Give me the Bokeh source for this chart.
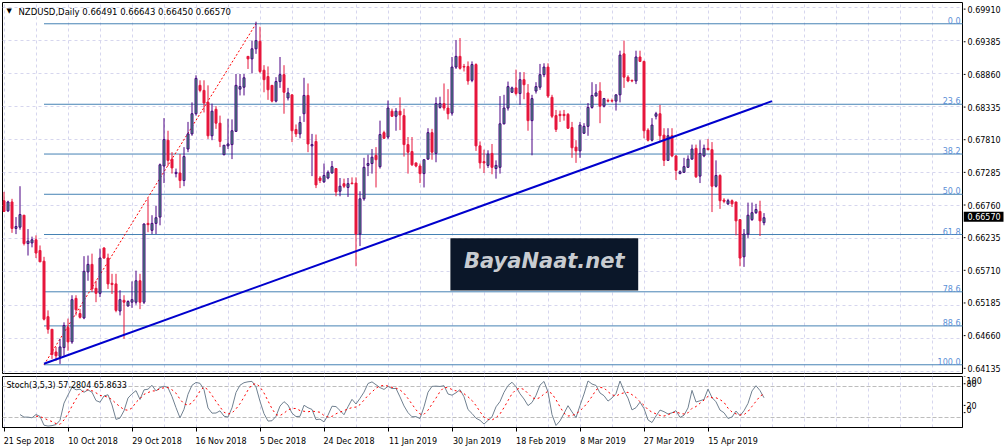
import math
from bokeh.plotting import figure
from bokeh.models import (Range1d, FixedTicker, ColumnDataSource, Label, BoxAnnotation, Grid)
from bokeh.layouts import column, row
from bokeh.embed import file_html
from bokeh.resources import INLINE
from bokeh.core.properties import value

# ---------------- data ----------------
symbol = "NZDUSD"
timeframe = "Daily"

open_ = [
    0.6684, 0.6668, 0.6682, 0.6640, 0.6642, 0.6661, 0.6616, 0.6617, 0.6622, 0.6605,
    0.6588, 0.6500, 0.6480, 0.6444, 0.6437, 0.6451, 0.6483, 0.6460, 0.6529, 0.6505,
    0.6498, 0.6571, 0.6583, 0.6545, 0.6537, 0.6609, 0.6593, 0.6553, 0.6552, 0.6509,
    0.6526, 0.6517, 0.6523, 0.6523, 0.6557, 0.6523, 0.6648, 0.6637, 0.6648, 0.6658,
    0.6739, 0.6780, 0.6750, 0.6727, 0.6728, 0.6716, 0.6766, 0.6790, 0.6822, 0.6867,
    0.6859, 0.6840, 0.6787, 0.6829, 0.6807, 0.6757, 0.6771, 0.6773, 0.6794, 0.6861,
    0.6864, 0.6913, 0.6909, 0.6925, 0.6937, 0.6891, 0.6881, 0.6867, 0.6842, 0.6873,
    0.6884, 0.6847, 0.6852, 0.6797, 0.6790, 0.6822, 0.6851, 0.6771, 0.6778, 0.6720,
    0.6714, 0.6720, 0.6728, 0.6735, 0.6699, 0.6711, 0.6705, 0.6712, 0.6712, 0.6631,
    0.6687, 0.6740, 0.6743, 0.6756, 0.6738, 0.6792, 0.6785, 0.6826, 0.6818, 0.6826,
    0.6819, 0.6773, 0.6762, 0.6744, 0.6739, 0.6727, 0.6750, 0.6792, 0.6759, 0.6832,
    0.6838, 0.6831, 0.6823, 0.6896, 0.6913, 0.6897, 0.6897, 0.6875, 0.6900, 0.6771,
    0.6746, 0.6740, 0.6759, 0.6735, 0.6737, 0.6806, 0.6831, 0.6856, 0.6863, 0.6854,
    0.6876, 0.6855, 0.6811, 0.6858, 0.6864, 0.6884, 0.6896, 0.6848, 0.6819, 0.6821,
    0.6821, 0.6821, 0.6800, 0.6769, 0.6763, 0.6791, 0.6802, 0.6832, 0.6850, 0.6858,
    0.6834, 0.6843, 0.6843, 0.6842, 0.6852, 0.6917, 0.6880, 0.6875, 0.6874, 0.6912,
    0.6905, 0.6796, 0.6780, 0.6818, 0.6822, 0.6788, 0.6748, 0.6787, 0.6755, 0.6727,
    0.6729, 0.6737, 0.6750, 0.6767, 0.6723, 0.6755, 0.6767, 0.6765, 0.6707, 0.6724,
    0.6685, 0.6679, 0.6684, 0.6682, 0.6654, 0.6595, 0.6631, 0.6654, 0.6665, 0.6667,
    0.66491,
]
high = [
    0.6698, 0.6684, 0.6687, 0.6658, 0.6707, 0.6661, 0.6639, 0.6627, 0.6629, 0.6613,
    0.6595, 0.6510, 0.6480, 0.6452, 0.6465, 0.6491, 0.6497, 0.6534, 0.6534, 0.6512,
    0.6596, 0.6597, 0.6600, 0.6557, 0.6608, 0.6610, 0.6600, 0.6568, 0.6568, 0.6542,
    0.6534, 0.6526, 0.6556, 0.6573, 0.6568, 0.6648, 0.6688, 0.6661, 0.6676, 0.6743,
    0.6815, 0.6795, 0.6761, 0.6735, 0.6758, 0.6769, 0.6809, 0.6840, 0.6883, 0.6875,
    0.6875, 0.6867, 0.6838, 0.6834, 0.6819, 0.6772, 0.6814, 0.6813, 0.6885, 0.6885,
    0.6885, 0.6913, 0.6938, 0.6968, 0.6960, 0.6899, 0.6897, 0.6867, 0.6880, 0.6912,
    0.6899, 0.6863, 0.6852, 0.6805, 0.6818, 0.6879, 0.6870, 0.6790, 0.6789, 0.6723,
    0.6743, 0.6732, 0.6747, 0.6735, 0.6720, 0.6719, 0.6720, 0.6721, 0.6721, 0.6699,
    0.6752, 0.6757, 0.6766, 0.6769, 0.6811, 0.6795, 0.6843, 0.6830, 0.6831, 0.6848,
    0.6830, 0.6785, 0.6785, 0.6744, 0.6743, 0.6749, 0.6799, 0.6798, 0.6848, 0.6849,
    0.6870, 0.6861, 0.6912, 0.6939, 0.6942, 0.6901, 0.6905, 0.6905, 0.6902, 0.6778,
    0.6765, 0.6764, 0.6774, 0.6748, 0.6850, 0.6852, 0.6873, 0.6865, 0.6892, 0.6888,
    0.6888, 0.6869, 0.6852, 0.6872, 0.6901, 0.6902, 0.6902, 0.6852, 0.6828, 0.6827,
    0.6828, 0.6823, 0.6809, 0.6780, 0.6809, 0.6807, 0.6839, 0.6872, 0.6869, 0.6872,
    0.6847, 0.6846, 0.6846, 0.6852, 0.6922, 0.6938, 0.6883, 0.6876, 0.6922, 0.6922,
    0.6906, 0.6799, 0.6815, 0.6825, 0.6836, 0.6799, 0.6799, 0.6799, 0.6756, 0.6732,
    0.6752, 0.6756, 0.6773, 0.6773, 0.6780, 0.6773, 0.6782, 0.6777, 0.6748, 0.6726,
    0.6688, 0.6687, 0.6686, 0.6682, 0.6654, 0.6639, 0.6681, 0.6681, 0.6679, 0.6684,
    0.66643,
]
low = [
    0.6666, 0.6666, 0.6633, 0.6631, 0.6638, 0.6613, 0.6597, 0.6610, 0.6593, 0.6587,
    0.6494, 0.6473, 0.6433, 0.6430, 0.6425, 0.6438, 0.6446, 0.6457, 0.6502, 0.6497,
    0.6496, 0.6557, 0.6539, 0.6523, 0.6531, 0.6592, 0.6544, 0.6536, 0.6507, 0.6502,
    0.6465, 0.6516, 0.6514, 0.6519, 0.6512, 0.6520, 0.6634, 0.6631, 0.6631, 0.6645,
    0.6712, 0.6739, 0.6727, 0.6721, 0.6704, 0.6707, 0.6761, 0.6787, 0.6819, 0.6856,
    0.6824, 0.6782, 0.6780, 0.6798, 0.6769, 0.6756, 0.6766, 0.6750, 0.6793, 0.6851,
    0.6851, 0.6893, 0.6886, 0.6917, 0.6886, 0.6856, 0.6844, 0.6840, 0.6840, 0.6863,
    0.6822, 0.6843, 0.6777, 0.6785, 0.6783, 0.6809, 0.6761, 0.6723, 0.6704, 0.6712,
    0.6712, 0.6718, 0.6727, 0.6691, 0.6691, 0.6704, 0.6690, 0.6710, 0.6580, 0.6612,
    0.6684, 0.6723, 0.6727, 0.6705, 0.6735, 0.6782, 0.6782, 0.6817, 0.6795, 0.6796,
    0.6754, 0.6727, 0.6739, 0.6737, 0.6712, 0.6705, 0.6749, 0.6749, 0.6745, 0.6830,
    0.6827, 0.6813, 0.6819, 0.6893, 0.6892, 0.6889, 0.6868, 0.6872, 0.6763, 0.6735,
    0.6728, 0.6736, 0.6726, 0.6719, 0.6727, 0.6805, 0.6827, 0.6855, 0.6851, 0.6836,
    0.6845, 0.6795, 0.6756, 0.6854, 0.6860, 0.6880, 0.6847, 0.6815, 0.6793, 0.6809,
    0.6811, 0.6798, 0.6752, 0.6744, 0.6752, 0.6790, 0.6787, 0.6830, 0.6850, 0.6807,
    0.6832, 0.6840, 0.6840, 0.6827, 0.6840, 0.6863, 0.6872, 0.6872, 0.6869, 0.6904,
    0.6783, 0.6778, 0.6778, 0.6813, 0.6777, 0.6739, 0.6748, 0.6753, 0.6717, 0.6726,
    0.6728, 0.6736, 0.6749, 0.6720, 0.6712, 0.6753, 0.6764, 0.6666, 0.6705, 0.6671,
    0.6680, 0.6677, 0.6674, 0.6629, 0.6580, 0.6579, 0.6625, 0.6652, 0.6663, 0.6628,
    0.66450,
]
close = [
    0.6667, 0.6682, 0.6640, 0.6643, 0.6662, 0.6616, 0.6620, 0.6622, 0.6601, 0.6587,
    0.6496, 0.6480, 0.6440, 0.6438, 0.6452, 0.6486, 0.6460, 0.6527, 0.6511, 0.6499,
    0.6572, 0.6583, 0.6544, 0.6537, 0.6593, 0.6593, 0.6552, 0.6551, 0.6510, 0.6527,
    0.6523, 0.6524, 0.6527, 0.6557, 0.6523, 0.6647, 0.6646, 0.6648, 0.6657, 0.6741,
    0.6781, 0.6748, 0.6736, 0.6729, 0.6716, 0.6754, 0.6790, 0.6822, 0.6878, 0.6859,
    0.6839, 0.6787, 0.6826, 0.6807, 0.6778, 0.6772, 0.6774, 0.6795, 0.6867, 0.6865,
    0.6879, 0.6909, 0.6925, 0.6938, 0.6889, 0.6876, 0.6860, 0.6842, 0.6873, 0.6884,
    0.6856, 0.6855, 0.6795, 0.6790, 0.6808, 0.6851, 0.6774, 0.6773, 0.6709, 0.6716,
    0.6724, 0.6729, 0.6738, 0.6698, 0.6707, 0.6707, 0.6711, 0.6711, 0.6631, 0.6687,
    0.6737, 0.6743, 0.6753, 0.6749, 0.6789, 0.6783, 0.6831, 0.6818, 0.6826, 0.6820,
    0.6773, 0.6761, 0.6741, 0.6739, 0.6727, 0.6749, 0.6792, 0.6761, 0.6838, 0.6838,
    0.6831, 0.6822, 0.6896, 0.6913, 0.6894, 0.6896, 0.6874, 0.6900, 0.6771, 0.6744,
    0.6744, 0.6758, 0.6737, 0.6740, 0.6806, 0.6831, 0.6865, 0.6863, 0.6854, 0.6876,
    0.6868, 0.6811, 0.6846, 0.6865, 0.6884, 0.6896, 0.6850, 0.6818, 0.6797, 0.6819,
    0.6819, 0.6799, 0.6768, 0.6763, 0.6804, 0.6802, 0.6832, 0.6851, 0.6855, 0.6834,
    0.6846, 0.6842, 0.6842, 0.6852, 0.6915, 0.6880, 0.6874, 0.6874, 0.6912, 0.6905,
    0.6795, 0.6780, 0.6804, 0.6822, 0.6787, 0.6748, 0.6787, 0.6755, 0.6732, 0.6730,
    0.6738, 0.6750, 0.6766, 0.6722, 0.6759, 0.6767, 0.6765, 0.6707, 0.6724, 0.6684,
    0.6683, 0.6684, 0.6679, 0.6652, 0.6593, 0.6631, 0.6661, 0.6665, 0.6670, 0.6652,
    0.66570,
]

price_ticks = [0.69910, 0.69385, 0.68860, 0.68335, 0.67810, 0.67285,
               0.66760, 0.66235, 0.65710, 0.65185, 0.64660, 0.64135]
date_labels = ["21 Sep 2018", "10 Oct 2018", "29 Oct 2018", "16 Nov 2018",
               "5 Dec 2018", "24 Dec 2018", "11 Jan 2019", "30 Jan 2019",
               "18 Feb 2019", "8 Mar 2019", "27 Mar 2019", "15 Apr 2019"]
date_bars = [0, 16, 32, 48, 64, 80, 96, 112, 128, 144, 160, 176]

fib_levels = [0.0, 23.6, 38.2, 50.0, 61.8, 78.6, 88.6, 100.0]
fib_bars = [10, 63]                 # anchor bars: 100% point, 0% point
fib_prices = [0.64237, 0.69647]     # prices at those anchors
trend_bars = [10, 192]
trend_prices = [0.64253, 0.68419]

stoch_k, stoch_d, stoch_slowing = 3, 5, 3
stoch_main_shown, stoch_signal_shown = 57.2804, 65.8633
stoch_levels = [20, 80]
stoch_bounds = [0, 100]

# ---------------- style / layout ----------------
FONT = "DejaVu Sans"
FS = "8px"
W_TOTAL = 1007
AX_W = 44                      # width of the price-scale strip on the right
W = W_TOTAL - AX_W             # width of the chart panels
H_MAIN, H_STOCH = 376, 72
MT, MB = 2, 3                  # main panel top/bottom borders
SB = 21                        # room for the date axis under the stochastic panel
BULL_BODY = "#3CB371"
BULL_LINE = "#4B0082"
BEAR = "#E6173C"
GRID_C = "#D6D6EE"
FIB_C = "#4682B4"
FIB_TXT = "#5B8FD6"
TREND_C = "#0000CD"
TICK_LEN = 2
LBL_X = 4

n = len(close)
xs = list(range(n))
PX_PER_BAR = 4.0
ML, MR = 2, 1
FRAME_W = W - ML - MR
X_START = -0.375
X_END = X_START + FRAME_W / PX_PER_BAR
Y_START, Y_END = 0.640985, 0.699846
grid_bars = list(range(0, int(X_END) + 1, 8))


def clear_grids(fig):
    for r in fig.center:
        if isinstance(r, Grid):
            r.visible = False


def set_grid(fig, dim, ticks, color, dash):
    grids = [r for r in fig.center if isinstance(r, Grid) and r.dimension == dim]
    if not grids:
        g = Grid(dimension=dim)
        fig.add_layout(g, "center")
        grids = [g]
    for g in grids:
        g.ticker = FixedTicker(ticks=ticks)
        g.grid_line_color = color
        g.grid_line_dash = dash
        g.grid_line_width = 1


def strip(height, y_rng):
    f = figure(width=AX_W, height=height, x_range=Range1d(0, AX_W), y_range=y_rng,
               output_backend="svg", toolbar_location=None, x_axis_location=None,
               y_axis_location=None, min_border_left=0, min_border_right=0,
               min_border_top=0, min_border_bottom=0)
    f.outline_line_color = None
    f.background_fill_color = "white"
    f.border_fill_color = "white"
    clear_grids(f)
    return f


# ---------------- main price panel ----------------
p = figure(width=W, height=H_MAIN, x_range=Range1d(X_START, X_END),
           y_range=Range1d(Y_START, Y_END), output_backend="svg",
           toolbar_location=None, x_axis_location=None, y_axis_location=None,
           min_border_left=ML, min_border_right=MR, min_border_top=MT, min_border_bottom=MB)
p.background_fill_color = "white"
p.border_fill_color = "white"
p.outline_line_color = "black"
p.outline_line_width = 1

set_grid(p, 0, grid_bars, GRID_C, "3 3")
set_grid(p, 1, price_ticks, GRID_C, "3 3")

# Fibonacci retracement
fib_lo, fib_hi = fib_prices
lvl_prices = [fib_hi - (fib_hi - fib_lo) * lv / 100.0 for lv in fib_levels]
p.ray(x=[fib_bars[0]] * len(lvl_prices), y=lvl_prices, length=0, angle=0,
      line_color=FIB_C, line_width=1)
p.text(x=[X_END] * len(lvl_prices), y=lvl_prices, text=[f"{lv:.1f}" for lv in fib_levels],
       text_align="right", text_baseline="bottom", x_offset=-2,
       text_font=value(FONT), text_font_size=value(FS), text_color=FIB_TXT)
p.line(x=fib_bars, y=fib_prices, line_color="red", line_dash="2 2", line_width=1)


# candles
def make_src(idx):
    return ColumnDataSource(dict(
        x=[xs[i] for i in idx],
        h=[high[i] for i in idx],
        l=[low[i] for i in idx],
        top=[max(open_[i], close[i]) for i in idx],
        bot=[min(open_[i], close[i]) for i in idx],
    ))


up_idx = [i for i in xs if close[i] >= open_[i]]
dn_idx = [i for i in xs if close[i] < open_[i]]
up_src, dn_src = make_src(up_idx), make_src(dn_idx)
p.segment(x0="x", y0="l", x1="x", y1="h", source=up_src, line_color=BULL_LINE, line_width=1)
p.segment(x0="x", y0="l", x1="x", y1="h", source=dn_src, line_color=BEAR, line_width=1)
p.vbar(x="x", width=0.5, top="top", bottom="bot", source=up_src,
       fill_color=BULL_BODY, line_color=BULL_LINE, line_width=1)
p.vbar(x="x", width=0.5, top="top", bottom="bot", source=dn_src,
       fill_color=BEAR, line_color=BEAR, line_width=1)

# trend line
p.line(x=trend_bars, y=trend_prices, line_color=TREND_C, line_width=2)

# watermark logo
WM_L, WM_R, WM_T, WM_B = 111.6, 158.55, 0.66245, 0.65415
p.add_layout(BoxAnnotation(left=WM_L, right=WM_R, top=WM_T, bottom=WM_B,
                           fill_color="#0B1729", fill_alpha=1.0, line_color=None))
p.add_layout(Label(x=(WM_L + WM_R) / 2, y=(WM_T + WM_B) / 2, y_offset=3,
                   text="BayaNaat.net", text_align="center", text_baseline="middle",
                   text_font=FONT, text_font_size="21px", text_font_style="bold italic",
                   text_color="#C8CCD1"))

# title
title_txt = f"{symbol},{timeframe}  " + " ".join(
    f"{v:.5f}" for v in (open_[-1], high[-1], low[-1], close[-1]))
p.add_layout(Label(x=X_START, y=Y_END, x_offset=4, y_offset=-8, text="\u25BC",
                   text_baseline="middle", text_font=FONT, text_font_size="7px",
                   text_color="black"))
p.add_layout(Label(x=X_START, y=Y_END, x_offset=16, y_offset=-4, text=title_txt,
                   text_baseline="top", text_font=FONT, text_font_size="8.5px",
                   text_color="black"))

# ---------------- price scale strip (right of the main panel) ----------------
ppu = (H_MAIN - MT - MB) / (Y_END - Y_START)
pa = strip(H_MAIN, Range1d(Y_START - MB / ppu, Y_END + MT / ppu))
pa.segment(x0=[0] * len(price_ticks), x1=[TICK_LEN] * len(price_ticks),
           y0=price_ticks, y1=price_ticks, line_color="black", line_width=1)
pa.text(x=[LBL_X] * len(price_ticks), y=price_ticks, text=[f"{t:.5f}" for t in price_ticks],
        text_baseline="middle", text_align="left", text_font=value(FONT),
        text_font_size=value(FS), text_color="black")
# current price marker
pa.rect(x=[(AX_W - 4) / 2], y=[close[-1]], width=AX_W - 4, height=10, height_units="screen",
        fill_color="black", line_color=None)
pa.text(x=[LBL_X], y=[close[-1]], text=[f"{close[-1]:.5f}"], text_baseline="middle",
        text_align="left", text_font=value(FONT), text_font_size=value(FS),
        text_color="white")

# ---------------- stochastic panel ----------------
ll = [min(low[max(0, i - stoch_k + 1):i + 1]) for i in xs]
hh = [max(high[max(0, i - stoch_k + 1):i + 1]) for i in xs]
st_main = [float("nan")] * n
for i in range(stoch_k - 1 + stoch_slowing - 1, n):
    num = sum(close[j] - ll[j] for j in range(i - stoch_slowing + 1, i + 1))
    den = sum(hh[j] - ll[j] for j in range(i - stoch_slowing + 1, i + 1))
    st_main[i] = 100.0 * num / den if den > 0 else 100.0
st_sig = [float("nan")] * n
first = stoch_k - 1 + stoch_slowing - 1 + stoch_d - 1
for i in range(first, n):
    st_sig[i] = sum(st_main[i - stoch_d + 1:i + 1]) / stoch_d

s = figure(width=W, height=H_STOCH, x_range=p.x_range, y_range=Range1d(*stoch_bounds),
           output_backend="svg", toolbar_location=None, x_axis_location="below",
           y_axis_location=None, min_border_left=ML, min_border_right=MR,
           min_border_top=0, min_border_bottom=SB)
s.background_fill_color = "white"
s.border_fill_color = "white"
s.outline_line_color = "black"
s.outline_line_width = 1
set_grid(s, 0, grid_bars, GRID_C, "3 3")
set_grid(s, 1, stoch_levels, "#BDBDBD", "4 2")

centers = [b + round(len(t) * 4.6 / 2 / PX_PER_BAR * 4) / 4 for b, t in zip(date_bars, date_labels)]
sx = s.xaxis[0]
sx.ticker = FixedTicker(ticks=centers, minor_ticks=date_bars)
sx.major_label_overrides = {c: t for c, t in zip(centers, date_labels)}
sx.major_tick_in = 0
sx.major_tick_out = 0
sx.minor_tick_in = 0
sx.minor_tick_out = 4
sx.minor_tick_line_color = "black"
sx.axis_line_color = "black"
sx.major_label_text_font = FONT
sx.major_label_text_font_size = FS
sx.major_label_text_color = "black"
sx.major_label_standoff = 5

s.line(x=xs, y=st_main, line_color="#708090", line_width=1)
s.line(x=xs, y=st_sig, line_color="red", line_dash="2 3", line_width=1)

s.add_layout(Label(x=X_START, y=stoch_bounds[1], x_offset=4, y_offset=-9,
                   text=f"Stoch({stoch_k},{stoch_d},{stoch_slowing}) {stoch_main_shown:.4f} {stoch_signal_shown:.4f}",
                   text_baseline="middle", text_font=FONT, text_font_size=FS,
                   text_color="black"))

# ---------------- stochastic scale strip ----------------
spu = (H_STOCH - SB) / (stoch_bounds[1] - stoch_bounds[0])
sa = strip(H_STOCH, Range1d(stoch_bounds[0] - SB / spu, stoch_bounds[1]))
s_ticks = stoch_bounds + stoch_levels
sa.segment(x0=[0] * len(s_ticks), x1=[TICK_LEN] * len(s_ticks), y0=s_ticks, y1=s_ticks,
           line_color="black", line_width=1)
sa.text(x=[LBL_X - 1] * len(stoch_levels), y=stoch_levels, text=[str(v) for v in stoch_levels],
        text_baseline="middle", text_align="left", text_font=value(FONT),
        text_font_size=value(FS), text_color="black")
sa.text(x=[LBL_X - 1], y=[stoch_bounds[1]], text=[str(stoch_bounds[1])], text_baseline="top",
        text_align="left", text_font=value(FONT), text_font_size=value(FS), text_color="black")
sa.text(x=[LBL_X - 1], y=[stoch_bounds[0]], text=[str(stoch_bounds[0])], text_baseline="bottom",
        text_align="left", text_font=value(FONT), text_font_size=value(FS), text_color="black")

layout = column(row(p, pa, spacing=0), row(s, sa, spacing=0), spacing=0)
open("out.html", "w").write(file_html(layout, INLINE))
